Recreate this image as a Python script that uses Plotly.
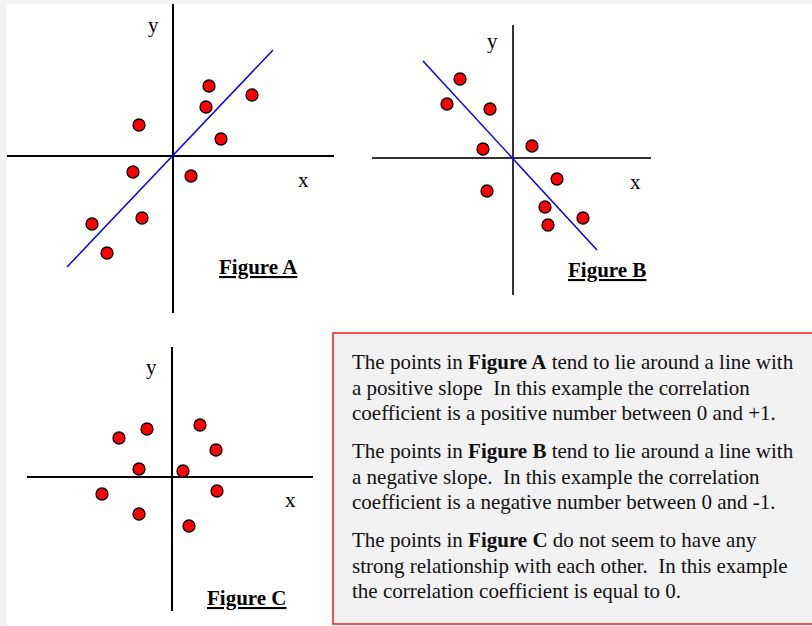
import plotly.graph_objects as go

# --- data (units: 1 unit = 10 px, origin at the axis cross) ---
a_x = [3.6, 7.9, 3.3, -3.4, 4.8, -4.0, 1.8, -3.1, -8.1, -6.6]
a_y = [7.0, 6.1, 4.9, 3.1, 1.7, -1.6, -2.0, -6.2, -6.8, -9.7]
a_line_x = [-10.6, 10.0]
a_line_y = [-11.1, 10.6]

b_x = [-5.3, -6.6, -2.3, -3.0, 1.9, 4.4, -2.6, 3.2, 7.0, 3.5]
b_y = [7.9, 5.4, 4.9, 0.9, 1.2, -2.1, -3.3, -4.9, -6.0, -6.7]
b_line_x = [-9.0, 8.4]
b_line_y = [9.7, -9.2]

c_x = [2.8, -2.5, -5.3, 4.4, -3.3, 1.1, -7.0, 4.5, -3.3, 1.7]
c_y = [5.2, 4.8, 3.9, 2.7, 0.8, 0.6, -1.7, -1.4, -3.7, -4.9]

paragraphs = [
    ["The points in <b>Figure A</b> tend to lie around a line with",
     "a positive slope  In this example the correlation",
     "coefficient is a positive number between 0 and +1."],
    ["The points in <b>Figure B</b> tend to lie around a line with",
     "a negative slope.  In this example the correlation",
     "coefficient is a negative number between 0 and -1."],
    ["The points in <b>Figure C</b> do not seem to have any",
     "strong relationship with each other.  In this example",
     "the correlation coefficient is equal to 0."],
]

W, H = 812, 626
FONT = "Liberation Serif, Times New Roman, serif"


def px(x):
    return x / W


def py(y):
    return 1 - y / H


fig = go.Figure()

panels = [
    # suffix, data, line, cross pixel, axis extents in px (x0, x1, y0, y1), axis colour
    ("", a_x, a_y, (a_line_x, a_line_y), (173, 156), (7, 334, 4, 313), "black"),
    ("2", b_x, b_y, (b_line_x, b_line_y), (513, 158), (372, 651, 25, 295), "#333333"),
    ("3", c_x, c_y, None, (172, 477), (27, 313, 347, 611), "black"),
]

for suf, xs, ys, line, (cx, cy), (x0, x1, y0, y1), axcol in panels:
    xa = "x" + suf
    ya = "y" + suf
    if line is not None:
        fig.add_trace(go.Scatter(x=line[0], y=line[1], mode="lines",
                                 line=dict(color="#0000ff", width=1.5),
                                 xaxis=xa, yaxis=ya, hoverinfo="skip"))
    fig.add_trace(go.Scatter(x=xs, y=ys, mode="markers",
                             marker=dict(size=12, color="#ff0000",
                                         line=dict(color="black", width=1.3)),
                             xaxis=xa, yaxis=ya, hoverinfo="skip"))
    axis_common = dict(showgrid=False, showticklabels=False, ticks="",
                       zeroline=True, zerolinecolor=axcol, zerolinewidth=1.5,
                       showline=False, fixedrange=True)
    fig.update_layout(**{
        "xaxis" + suf: dict(domain=[px(x0), px(x1)],
                            range=[(x0 - cx) / 10, (x1 - cx) / 10],
                            anchor=ya, **axis_common),
        "yaxis" + suf: dict(domain=[py(y1), py(y0)],
                            range=[-(y1 - cy) / 10, (cy - y0) / 10],
                            anchor=xa, **axis_common),
    })

# axis letters and figure captions (pixel positions)
labels = [
    ("y", 153, 25, False), ("x", 303, 180, False), ("<u>Figure A</u>", 258, 267, True),
    ("y", 492, 41, False), ("x", 635, 182, False), ("<u>Figure B</u>", 607, 270, True),
    ("y", 151, 367, False), ("x", 290, 500, False), ("<u>Figure C</u>", 247, 598, True),
]
for txt, lx, ly, bold in labels:
    fig.add_annotation(x=px(lx), y=py(ly), xref="paper", yref="paper",
                       text="<b>" + txt + "</b>" if bold else txt, showarrow=False,
                       font=dict(family=FONT, size=21, color="black"),
                       xanchor="center", yanchor="middle")

# text box lines
line_y = [[362, 388, 413], [451, 477, 502], [540, 566, 591]]
for para, ys in zip(paragraphs, line_y):
    for txt, ly in zip(para, ys):
        fig.add_annotation(x=px(350), y=py(ly), xref="paper", yref="paper",
                           text=txt, showarrow=False, align="left",
                           font=dict(family=FONT, size=21, color="#111111"),
                           xanchor="left", yanchor="middle")

fig.update_layout(
    width=W, height=H,
    margin=dict(l=0, r=0, t=0, b=0),
    paper_bgcolor="#f2f2f2",
    plot_bgcolor="rgba(0,0,0,0)",
    showlegend=False,
    hovermode=False,
    shapes=[
        dict(type="rect", xref="paper", yref="paper", layer="below",
             x0=px(7), x1=1.01, y0=-0.01, y1=py(4),
             fillcolor="white", line=dict(width=0)),
        dict(type="rect", xref="paper", yref="paper", layer="below",
             x0=px(333), x1=px(820), y0=py(624), y1=py(333),
             fillcolor="#f2f2f2", line=dict(color="#ee1c1c", width=1.5)),
    ],
)

# page body has an 8px default margin; drop it so the figure sits at (0, 0)
fig.write_html("out.html", config={"displayModeBar": False},
               post_script="document.body.style.margin='0';")
